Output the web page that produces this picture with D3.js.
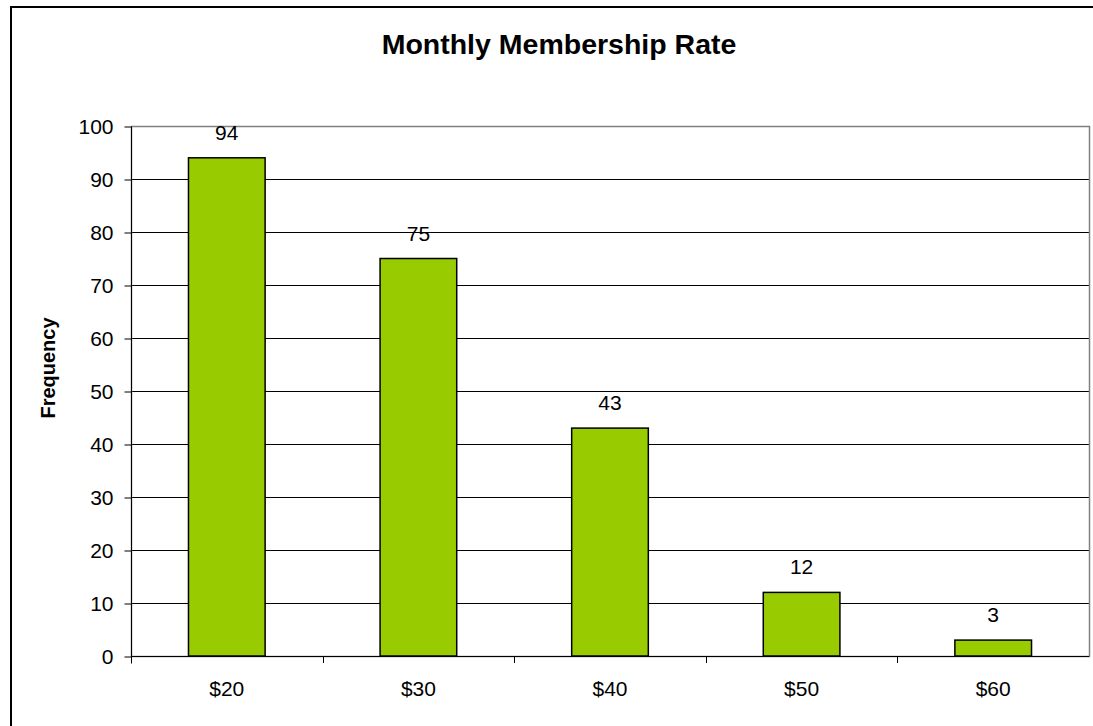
<!DOCTYPE html>
<html>
<head>
<meta charset="utf-8">
<script src="https://cdn.jsdelivr.net/npm/d3@7"></script>
<style>
    body { margin: 0; background: #fff; }
    text { font-family: "Liberation Sans", Arial, sans-serif; fill: #000; }
</style>
</head>
<body>
<svg id="chart"></svg>
<script>
// chart data
const categories = ['$20', '$30', '$40', '$50', '$60']
const frequencies = [94, 75, 43, 12, 3]
const yTicks = [0, 10, 20, 30, 40, 50, 60, 70, 80, 90, 100]

const config = {
    width: 1093,
    height: 726,
    plot: {left: 131, right: 1089, top: 126, bottom: 656},
    barColor: '#99cc00'
}

const data = categories.map((c, i) => ({rate: c, count: frequencies[i]}))

const svg = d3.select('#chart')
    .attr('width', config.width)
    .attr('height', config.height)

// outer chart frame (runs off the right and bottom edges)
svg.append('rect')
    .attr('x', 11)
    .attr('y', 7)
    .attr('width', 1200)
    .attr('height', 800)
    .attr('fill', 'none')
    .attr('stroke', '#000')
    .attr('stroke-width', 2)

const p = config.plot

const xScale = d3.scaleBand()
    .domain(categories)
    .range([p.left, p.right])
    .paddingInner(0.6)
    .paddingOuter(0.3)

// band for tick positions (category boundaries)
const xBand = d3.scaleBand().domain(categories).range([p.left, p.right])

const yScale = d3.scaleLinear()
    .domain([0, 100])
    .range([p.bottom, p.top])

// gridlines
svg.append('g')
    .selectAll('line')
    .data(yTicks.filter(d => d > 0 && d < 100))
    .join('line')
    .attr('x1', p.left)
    .attr('x2', p.right)
    .attr('y1', d => Math.round(yScale(d)) + 0.5)
    .attr('y2', d => Math.round(yScale(d)) + 0.5)
    .attr('stroke', '#000')
    .attr('stroke-width', 1)

// plot area border
svg.append('rect')
    .attr('x', p.left + 0.5)
    .attr('y', p.top + 0.5)
    .attr('width', p.right - p.left)
    .attr('height', p.bottom - p.top)
    .attr('fill', 'none')
    .attr('stroke', '#808080')
    .attr('stroke-width', 1.5)

// bars
svg.append('g')
    .selectAll('.bar')
    .data(data)
    .join('rect')
    .attr('class', 'bar')
    .attr('x', d => xScale(d.rate))
    .attr('y', d => yScale(d.count))
    .attr('width', xScale.bandwidth())
    .attr('height', d => p.bottom - yScale(d.count))
    .attr('fill', config.barColor)
    .attr('stroke', '#000')
    .attr('stroke-width', 1.5)

// value labels
svg.append('g')
    .selectAll('.bar-label')
    .data(data)
    .join('text')
    .attr('class', 'bar-label')
    .attr('x', d => xScale(d.rate) + xScale.bandwidth() / 2)
    .attr('y', d => yScale(d.count) - 18)
    .attr('text-anchor', 'middle')
    .style('font-size', '21px')
    .text(d => d.count)

// y axis
const yAxis = d3.axisLeft(yScale)
    .tickValues(yTicks)
    .tickSize(7)
    .tickPadding(11)

const yAxisG = svg.append('g')
    .attr('transform', `translate(${p.left + 0.5}, 0.5)`)
    .call(yAxis)
yAxisG.select('.domain').attr('stroke', '#000').attr('d', `M0,${p.top}V${p.bottom + 7}`)
yAxisG.selectAll('text').style('font-size', '21px').style('font-family', '"Liberation Sans", Arial, sans-serif').attr('fill', '#000')

// x axis: ticks at category boundaries
const boundaries = categories.map(c => xBand(c)).concat([p.right])
const xAxisG = svg.append('g')
svg.append('line')
    .attr('x1', p.left)
    .attr('x2', p.right)
    .attr('y1', p.bottom + 0.5)
    .attr('y2', p.bottom + 0.5)
    .attr('stroke', '#000')
xAxisG.selectAll('line')
    .data(boundaries.slice(1, -1))
    .join('line')
    .attr('x1', d => Math.round(d) + 0.5)
    .attr('x2', d => Math.round(d) + 0.5)
    .attr('y1', p.bottom)
    .attr('y2', p.bottom + 7)
    .attr('stroke', '#000')
xAxisG.selectAll('text')
    .data(categories)
    .join('text')
    .attr('x', d => xBand(d) + xBand.bandwidth() / 2)
    .attr('y', 696)
    .attr('text-anchor', 'middle')
    .style('font-size', '21px')
    .text(d => d)

// titles
svg.append('text')
    .attr('x', 559)
    .attr('y', 54)
    .attr('text-anchor', 'middle')
    .style('font-size', '28.5px')
    .style('font-weight', 'bold')
    .text('Monthly Membership Rate')

svg.append('text')
    .attr('transform', 'translate(55, 368) rotate(-90)')
    .attr('text-anchor', 'middle')
    .style('font-size', '20px')
    .style('font-weight', 'bold')
    .text('Frequency')
</script>
</body>
</html>
